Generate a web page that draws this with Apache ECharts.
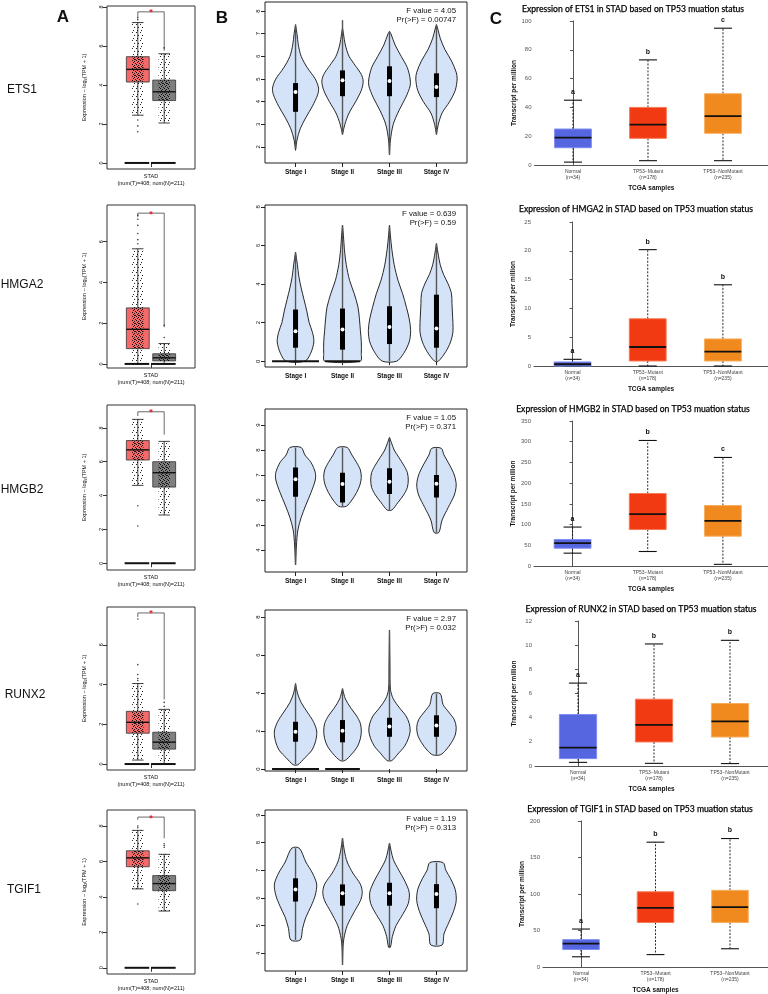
<!DOCTYPE html>
<html><head><meta charset="utf-8">
<script src="https://cdn.jsdelivr.net/npm/echarts@6/dist/echarts.min.js"></script>
<style>html,body{margin:0;padding:0;background:#fff}#c{width:768px;height:994px}</style>
</head><body><div id="c"></div><script>
// ---------------- DATA ----------------
const genes = ['ETS1','HMGA2','HMGB2','RUNX2','TGIF1'];
const panelLetters = ['A','B','C'];

// Panel A (GEPIA boxplots): [min, Q1, median, Q3, max]
const aTumor  = [[2.45,4.15,4.8,5.45,7.2],[0,0.75,1.7,2.75,5.65],[4.6,6.1,6.7,7.25,8.5],[0.2,1.55,2.1,2.65,4.05],[4.45,5.7,6.2,6.6,7.75]];
const aNormal = [[2.05,3.2,3.65,4.25,5.6],[0,0.15,0.3,0.5,1.0],[2.85,4.5,5.35,6.0,7.2],[0,0.75,1.1,1.6,2.75],[3.2,4.35,4.75,5.2,6.4]];
const aTumorOut  = [[7.45,7.35,1.6,1.9,2.2],[7.3,7.1,6.8,6.4,6.1,5.9],[3.4,2.2],[7.3,5.0,4.5,4.3,4.2],[3.6,7.9,8.0]];
const aNormalOut = [[5.9],[1.9,1.3],[],[3.1,2.9],[6.8,6.9,7.0]];
const aBracket = [[7.45,7.75,5.75],[7.2,7.4,1.8],[8.7,8.95,7.6],[7.4,7.6,3.25],[8.35,8.5,7.3]]; // [left end, top, right end]
const aTicks = [0,2,4,6,8];
const aCategory = 'STAD';
const aCounts = '(num(T)=408; num(N)=211)';

// Panel B (violin plots by stage)
const stages = ['Stage I','Stage II','Stage III','Stage IV'];
const fValues = ['4.05','0.639','1.05','2.97','1.19'];
const pValues = ['0.00747','0.59','0.371','0.032','0.313'];
const bTicks = [[2,3,4,5,6,7,8],[0,2,4,6,8],[4,5,6,7,8,9],[0,2,4,6,8],[4,5,6,7,8,9]];
// violin outline: levels and half widths (stage units)
const vLevels = [
 [[1.85,2.3,2.8,3.3,3.8,4.3,4.6,5.0,5.5,6.0,6.5,7.0,7.4],[2.55,3.0,3.5,4.0,4.5,4.9,5.2,5.6,6.0,6.5,7.0,7.25],[1.65,2.3,3.0,3.6,4.2,4.7,5.0,5.5,6.0,6.5,7.0,7.1],[2.55,3.0,3.5,4.0,4.5,5.0,5.3,5.8,6.3,6.8,7.2,7.4]],
 [[0,0.4,1.0,1.5,2.0,2.6,3.2,3.8,4.4,5.0,5.65],[0,0.4,1.0,1.6,2.2,2.8,3.5,4.2,5.0,5.8,6.5,7.05],[0,0.4,1.0,1.6,2.2,2.8,3.5,4.2,5.0,5.8,6.5,7.05],[0,0.5,1.0,1.5,2.0,2.5,3.0,3.5,4.0,4.5,5.0,5.5,6.1]],
 [[3.4,4.2,4.8,5.3,5.8,6.3,6.8,7.1,7.5,7.8,8.1],[5.75,6.0,6.3,6.6,6.9,7.2,7.5,7.8,8.1],[5.6,5.9,6.2,6.5,6.8,7.1,7.4,7.7,8.0,8.3,8.5],[4.7,5.2,5.7,6.2,6.6,7.0,7.4,7.8,8.07]],
 [[0.23,0.6,1.0,1.5,2.0,2.5,3.0,3.5,4.0,4.5],[0.45,0.8,1.2,1.6,2.0,2.4,2.8,3.2,3.7,4.23],[0.45,0.8,1.2,1.6,2.0,2.4,2.8,3.2,3.7,4.2,5.4,7.3],[0.75,1.0,1.4,1.8,2.2,2.6,3.0,3.4,3.97]],
 [[4.48,4.9,5.3,5.7,6.1,6.5,6.9,7.3,7.8],[3.58,4.2,4.54,5.0,5.5,5.9,6.2,6.5,6.9,7.3,7.7,8.16],[4.22,4.6,5.0,5.4,5.8,6.2,6.6,7.0,7.4,7.98],[4.3,4.7,5.1,5.5,5.9,6.3,6.7,7.0,7.28]]
];
const vWidths = [
 [[0,0.03,0.1,0.22,0.36,0.47,0.49,0.42,0.25,0.12,0.06,0.03,0],[0,0.05,0.14,0.28,0.4,0.44,0.4,0.27,0.14,0.06,0.02,0],[0,0.02,0.08,0.2,0.35,0.44,0.44,0.38,0.25,0.12,0.03,0],[0,0.04,0.12,0.28,0.4,0.44,0.42,0.32,0.18,0.08,0.03,0]],
 [[0.2,0.32,0.39,0.36,0.29,0.24,0.18,0.12,0.07,0.04,0],[0.38,0.4,0.4,0.38,0.36,0.33,0.25,0.15,0.08,0.04,0.02,0],[0.15,0.3,0.42,0.45,0.42,0.36,0.28,0.18,0.1,0.05,0.02,0],[0.04,0.2,0.3,0.35,0.35,0.34,0.33,0.32,0.25,0.15,0.08,0.04,0]],
 [[0,0.02,0.05,0.12,0.22,0.33,0.42,0.42,0.33,0.2,0.12],[0.08,0.2,0.3,0.37,0.4,0.38,0.3,0.2,0.1],[0.05,0.18,0.3,0.38,0.4,0.38,0.3,0.2,0.1,0.04,0],[0.05,0.12,0.25,0.38,0.42,0.38,0.28,0.16,0.1]],
 [[0.05,0.2,0.35,0.43,0.45,0.38,0.25,0.12,0.04,0],[0.05,0.2,0.32,0.38,0.4,0.38,0.3,0.18,0.06,0],[0.05,0.18,0.32,0.4,0.44,0.42,0.35,0.22,0.08,0.02,0.01,0],[0.08,0.2,0.32,0.4,0.42,0.38,0.26,0.14,0.08]],
 [[0.1,0.15,0.22,0.33,0.42,0.45,0.36,0.22,0.08],[0,0.01,0.03,0.1,0.25,0.38,0.42,0.38,0.22,0.1,0.04,0],[0.02,0.06,0.14,0.28,0.4,0.42,0.33,0.2,0.08,0],[0.12,0.16,0.26,0.36,0.42,0.4,0.3,0.2,0.14]]
];
// inner box: [min, Q1, median, Q3, max]
const vStats = [
 [[1.9,3.55,4.43,4.82,7.4],[2.55,4.24,4.94,5.38,7.6],[1.65,4.24,4.91,5.56,7.1],[2.55,4.2,4.65,5.25,7.4]],
 [[0,0.7,1.55,2.68,5.65],[0,0.6,1.65,2.73,7.05],[0,0.89,1.77,2.85,7.05],[0,0.7,1.7,3.45,6.1]],
 [[3.4,6.13,6.83,7.3,8.1],[5.75,5.9,6.64,7.09,8.1],[5.6,6.24,6.73,7.27,8.5],[4.7,6.1,6.65,7.0,8.07]],
 [[0.25,1.44,1.97,2.49,4.5],[0.45,1.41,2.02,2.58,4.23],[0.45,1.7,2.24,2.7,7.3],[0.75,1.7,2.3,2.83,3.97]],
 [[4.48,5.87,6.31,6.71,7.8],[3.58,5.72,6.17,6.49,8.16],[4.22,5.72,6.17,6.55,7.98],[4.3,5.63,6.14,6.5,7.28]]
];
// stages with a pile of zero values: [stage, half width]
const vZero = [[],[[1,0.5],[2,0.37]],[],[[1,0.5],[2,0.37]],[]];

// Panel C (UALCAN TP53 status boxplots): [min, Q1, median, Q3, max]
const cGroups = ['Normal','TP53\u2212Mutant','TP53\u2212NonMutant'];
const cCounts = ['(n=34)','(n=178)','(n=235)'];
const cStats = [
 [[2,12,19,25,45],[3,18.5,28,40,73],[3,22,34,49.5,95]],
 [[0,0,0.3,0.7,1.16],[0,0.87,3.3,8.2,20.2],[0,0.87,2.5,4.7,14.1]],
 [[31,43,55,64,94],[35,88,125,175,303],[4,72,109,146,262]],
 [[0.3,0.61,1.52,4.26,6.86],[0.22,1.99,3.4,5.53,10.1],[0.2,2.4,3.7,5.17,10.4]],
 [[14,24,32,37.5,52],[17,61,81,103,171],[25,61,82,105,176]]
];
const cLetters = [['a','b','c'],['a','b','b'],['a','b','c'],['a','b','b'],['a','b','b']];
const cMax = [100,25,350,12,200];
const cInterval = [20,5,50,2,50];

// ---------------- LAYOUT / STYLE ----------------
const FONT = '"Liberation Sans", Arial, sans-serif';
const TFONT = 'Lato, "Open Sans", sans-serif';
const aRows = [[6,169],[205,368],[405,570],[607,770],[810,974]];
const aRange = [[-0.31,8.05],[-0.2,7.8],[-0.4,9.35],[-0.3,7.9],[-0.35,8.9]];
const bRows = [[2,163],[205,367],[409,572],[610,771],[810,971]];
const bRange = [[1.29,8.4],[-0.3,8.1],[3.12,9.64],[-0.1,8.37],[3.36,9.18]];
const cRows = [[21,165],[222,366],[421,566],[621,766],[821,967]];
const cLeft = [534.5,534,534,535,543];
const cX = [[-0.513,2.6],[-0.513,2.6],[-0.513,2.6],[-0.566,2.5],[-0.51,2.51]];
const titleXY = [[633,9],[636,209],[633,409],[641,609],[640,809]];
const geneXY = [[22,90],[22,285],[22,490],[25,695],[24,890]];
const cColors = ['#5566E0','#F23A12','#F08A1E'];
const cBorders = ['#7F8CF0','#F77A55','#F6AE5E'];

function makePattern(dots, w, h){
  const cv = document.createElement('canvas'); cv.width = w; cv.height = h;
  const g = cv.getContext('2d'); g.fillStyle = 'rgba(10,10,10,0.9)';
  dots.forEach(d => g.fillRect(d[0], d[1], 1, 1));
  return cv;
}
const densePat = makePattern([[0,0],[2,1],[1,2],[3,3]],4,4);
const sparsePat = makePattern([[0,0],[2,3],[1,6]],4,8);

const grids = [], xAxes = [], yAxes = [], series = [], graphics = [];

function ticksIn(list, r){ return list.filter(v => v >= r[0] && v <= r[1]); }

genes.forEach((gene, i) => {
  // ---------- Panel A ----------
  let gi = grids.length;
  grids.push({left:107, top:aRows[i][0], width:88, height:aRows[i][1]-aRows[i][0], show:true, borderColor:'#333', borderWidth:1, backgroundColor:'rgba(0,0,0,0)', containLabel:false, outerBoundsMode:'none'});
  xAxes.push({gridIndex:gi, type:'value', min:0, max:1, axisLine:{show:false}, splitLine:{show:false},
    axisTick:{show:true, customValues:[0.5], length:4, lineStyle:{color:'#333'}},
    axisLabel:{show:true, customValues:[0.5], formatter:() => aCategory + '\n' + aCounts, fontSize:5.5, lineHeight:7, color:'#111', fontFamily:FONT, margin:4}});
  const at = ticksIn(aTicks, aRange[i]);
  yAxes.push({gridIndex:gi, type:'value', min:aRange[i][0], max:aRange[i][1], axisLine:{show:false}, splitLine:{show:false},
    axisTick:{show:true, customValues:at, length:4, lineStyle:{color:'#333'}},
    axisLabel:{show:true, customValues:at, rotate:90, fontSize:5.5, color:'#111', fontFamily:FONT, margin:3},
    name:'Expression \u2212 log{s|2}(TPM + 1)', nameLocation:'middle', nameGap:20, nameRotate:90,
    nameTextStyle:{fontSize:5.5, color:'#111', fontFamily:FONT, rich:{s:{fontSize:4, fontFamily:FONT, color:'#111', padding:[0,0,-3,0]}}}});
  series.push({type:'custom', xAxisIndex:gi, yAxisIndex:gi, clip:false, silent:true,
    data:[[0.35].concat(aTumor[i],[0]), [0.65].concat(aNormal[i],[1])],
    encode:{x:0, y:[1,2,3,4,5]},
    renderItem:(params, api) => {
      const x = api.value(0), mn = api.value(1), q1 = api.value(2), md = api.value(3), q3 = api.value(4), mx = api.value(5), k = api.value(6);
      const c = (a,b) => api.coord([a,b]);
      const hw = 0.13, cw = 0.065, bw = 0.065;
      const fill = k === 0 ? '#F46A6A' : '#7F7F7F';
      const tl = c(x-hw, q3), br = c(x+hw, q1);
      const ln = (p1,p2,st) => ({type:'line', shape:{x1:p1[0],y1:p1[1],x2:p2[0],y2:p2[1]}, style:st});
      const ws = {stroke:'#111', lineWidth:0.8};
      const b1 = c(x-bw, q3), b2 = c(x+bw, q1), s1 = c(x-bw, mx), s2 = c(x+bw, mn);
      return {type:'group', children:[
        ln(c(x,q3), c(x,mx), ws), ln(c(x,q1), c(x,mn), ws),
        ln(c(x-cw,mx), c(x+cw,mx), ws), ln(c(x-cw,mn), c(x+cw,mn), ws),
        {type:'rect', shape:{x:tl[0], y:tl[1], width:br[0]-tl[0], height:br[1]-tl[1]}, style:{fill:fill, stroke:'#333', lineWidth:0.8}},
        {type:'rect', shape:{x:s1[0], y:s1[1], width:s2[0]-s1[0], height:s2[1]-s1[1]}, style:{fill:{image:sparsePat, repeat:'repeat'}}},
        {type:'rect', shape:{x:b1[0], y:b1[1], width:b2[0]-b1[0], height:b2[1]-b1[1]}, style:{fill:{image:densePat, repeat:'repeat'}}},
        ln(c(x-hw,md), c(x+hw,md), {stroke:'#111', lineWidth:1.4}),
        ln(c(x-hw-0.02,0), c(x+hw,0), {stroke:'#111', lineWidth:2})
      ]};
    }});
  series.push({type:'scatter', xAxisIndex:gi, yAxisIndex:gi, silent:true, symbolSize:1.6, itemStyle:{color:'#111'},
    data: aTumorOut[i].map(v => [0.35, v]).concat(aNormalOut[i].map(v => [0.65, v]))});
  series.push({type:'custom', xAxisIndex:gi, yAxisIndex:gi, clip:false, silent:true,
    data:[[0.5].concat(aBracket[i])], encode:{x:0, y:[1,2,3]},
    renderItem:(params, api) => {
      const c = (a,b) => api.coord([a,b]);
      const le = api.value(1), top = api.value(2), re = api.value(3);
      const pts = [c(0.35,le), c(0.35,top), c(0.65,top), c(0.65,re)];
      const m = c(0.5, top);
      return {type:'group', children:[
        {type:'polyline', shape:{points:pts}, style:{stroke:'#444', lineWidth:0.8, fill:null}},
        {type:'text', x:m[0], y:m[1]+1, style:{text:'*', fill:'#E8202A', font:'bold 9px ' + FONT, align:'center', verticalAlign:'middle'}}
      ]};
    }});

  // ---------- Panel B ----------
  gi = grids.length;
  grids.push({left:265, top:bRows[i][0], width:202, height:bRows[i][1]-bRows[i][0], show:true, borderColor:'#222', borderWidth:1, backgroundColor:'rgba(0,0,0,0)', containLabel:false, outerBoundsMode:'none'});
  xAxes.push({gridIndex:gi, type:'value', min:0.35, max:4.65, axisLine:{show:false}, splitLine:{show:false},
    axisTick:{show:true, customValues:[1,2,3,4], length:4, lineStyle:{color:'#222'}},
    axisLabel:{show:true, customValues:[1,2,3,4], formatter:(v) => stages[Math.round(v)-1], fontSize:6.5, fontWeight:'bold', color:'#111', fontFamily:FONT, margin:6}});
  const bt = ticksIn(bTicks[i], bRange[i]);
  yAxes.push({gridIndex:gi, type:'value', min:bRange[i][0], max:bRange[i][1], axisLine:{show:false}, splitLine:{show:false},
    axisTick:{show:true, customValues:bt, length:4, lineStyle:{color:'#222'}},
    axisLabel:{show:true, customValues:bt, rotate:90, fontSize:6, color:'#111', fontFamily:FONT, margin:4}});
  series.push({type:'custom', xAxisIndex:gi, yAxisIndex:gi, clip:false, silent:true,
    data: stages.map((s,k) => [k+1].concat(vStats[i][k])),
    encode:{x:0, y:[1,5]},
    renderItem:(params, api) => {
      const k = params.dataIndex, s = api.value(0);
      const c = (a,b) => api.coord([a,b]);
      const ys = vLevels[i][k], ws = vWidths[i][k];
      const right = ys.map((y,j) => c(s + ws[j], y));
      const left = ys.map((y,j) => c(s - ws[j], y)).reverse();
      const mn = api.value(1), q1 = api.value(2), md = api.value(3), q3 = api.value(4), mx = api.value(5);
      const p1 = c(s, mn), p2 = c(s, mx), pq3 = c(s, q3), pq1 = c(s, q1), pm = c(s, md);
      const ch = [
        {type:'polygon', shape:{points:right.concat(left), smooth:0.3}, style:{fill:'#D5E3F8', stroke:'#111', lineWidth:0.9}},
        {type:'line', shape:{x1:p1[0], y1:p1[1], x2:p2[0], y2:p2[1]}, style:{stroke:'#555', lineWidth:1.4}},
        {type:'rect', shape:{x:pq3[0]-2.5, y:pq3[1], width:5, height:pq1[1]-pq3[1]}, style:{fill:'#000'}},
        {type:'circle', shape:{cx:pm[0], cy:pm[1], r:2}, style:{fill:'#fff'}}
      ];
      vZero[i].forEach(z => {
        if (z[0] === s) {
          const a = c(s - z[1], 0), b = c(s + z[1], 0);
          ch.push({type:'line', shape:{x1:a[0], y1:a[1], x2:b[0], y2:b[1]}, style:{stroke:'#111', lineWidth:2}});
        }
      });
      return {type:'group', children:ch};
    }});
  graphics.push({type:'text', x:456, y:bRows[i][0]+8.5, style:{text:'F value = ' + fValues[i], font:'7.8px ' + FONT, fill:'#111', align:'right', verticalAlign:'middle'}});
  graphics.push({type:'text', x:456, y:bRows[i][0]+17.5, style:{text:'Pr(>F) = ' + pValues[i], font:'7.8px ' + FONT, fill:'#111', align:'right', verticalAlign:'middle'}});

  // ---------- Panel C ----------
  gi = grids.length;
  grids.push({left:cLeft[i], top:cRows[i][0], width:768-cLeft[i], height:cRows[i][1]-cRows[i][0], show:false, containLabel:false, outerBoundsMode:'none'});
  xAxes.push({gridIndex:gi, type:'value', min:cX[i][0], max:cX[i][1], splitLine:{show:false},
    axisLine:{show:true, onZero:false, lineStyle:{color:'#555', width:1}},
    axisTick:{show:false},
    axisLabel:{show:true, customValues:[0,1,2], formatter:(v) => cGroups[Math.round(v)] + '\n' + cCounts[Math.round(v)], fontSize:5, lineHeight:6, color:'#444', fontFamily:FONT, margin:4},
    name:'TCGA samples', nameLocation:'middle', nameGap:20, nameTextStyle:{fontSize:6.5, fontWeight:'bold', color:'#111', fontFamily:FONT}});
  yAxes.push({gridIndex:gi, type:'value', min:0, max:cMax[i], interval:cInterval[i], splitLine:{show:false},
    axisLine:{show:true, lineStyle:{color:'#555', width:1}},
    axisTick:{show:true, length:3, lineStyle:{color:'#555'}},
    axisLabel:{show:true, fontSize:6, color:'#555', fontFamily:FONT, margin:3},
    name:'Transcript per million', nameLocation:'middle', nameGap:17, nameRotate:90,
    nameTextStyle:{fontSize:6.5, fontWeight:'bold', color:'#111', fontFamily:FONT}});
  series.push({type:'custom', xAxisIndex:gi, yAxisIndex:gi, clip:false, silent:true,
    data: cStats[i].map((st,k) => [k].concat(st)),
    encode:{x:0, y:[1,2,3,4,5]},
    renderItem:(params, api) => {
      const k = params.dataIndex, x = api.value(0);
      const mn = api.value(1), q1 = api.value(2), md = api.value(3), q3 = api.value(4), mx = api.value(5);
      const c = (a,b) => api.coord([a,b]);
      const hw = 0.245, cw = 0.12;
      const ln = (p1,p2,st) => ({type:'line', shape:{x1:p1[0],y1:p1[1],x2:p2[0],y2:p2[1]}, style:st});
      const tl = c(x-hw, q3), br = c(x+hw, q1), top = c(x, mx);
      const dash = {stroke:'#111', lineWidth:0.9, lineDash:[2,1.5]};
      return {type:'group', children:[
        ln(c(x,q3), c(x,mx), dash), ln(c(x,q1), c(x,mn), dash),
        ln(c(x-cw,mx), c(x+cw,mx), {stroke:'#111', lineWidth:1.1}),
        ln(c(x-cw,mn), c(x+cw,mn), {stroke:'#111', lineWidth:1.1}),
        {type:'rect', shape:{x:tl[0], y:tl[1], width:br[0]-tl[0], height:Math.max(br[1]-tl[1], 0.5)}, style:{fill:cColors[k], stroke:cBorders[k], lineWidth:1}},
        ln(c(x-hw,md), c(x+hw,md), {stroke:'#111', lineWidth:1.8}),
        {type:'text', x:top[0], y:top[1]-8, style:{text:cLetters[i][k], font:'bold 7px ' + FONT, fill:'#111', align:'center', verticalAlign:'middle'}}
      ]};
    }});
  graphics.push({type:'text', x:titleXY[i][0], y:titleXY[i][1], style:{text:'Expression of ' + gene + ' in STAD based on TP53 muation status', font:'8.6px ' + TFONT, fill:'#000', stroke:'#000', lineWidth:0.25, align:'center', verticalAlign:'middle'}});

  // gene label
  graphics.push({type:'text', x:geneXY[i][0], y:geneXY[i][1], style:{text:gene, font:'12px ' + FONT, fill:'#111', align:'center', verticalAlign:'middle'}});
});

graphics.push({type:'text', x:63, y:17, style:{text:panelLetters[0], font:'bold 17px ' + FONT, fill:'#111', align:'center', verticalAlign:'middle'}});
graphics.push({type:'text', x:222, y:18, style:{text:panelLetters[1], font:'bold 17px ' + FONT, fill:'#111', align:'center', verticalAlign:'middle'}});
graphics.push({type:'text', x:496, y:19, style:{text:panelLetters[2], font:'bold 17px ' + FONT, fill:'#111', align:'center', verticalAlign:'middle'}});

const chart = echarts.init(document.getElementById('c'), null, {renderer:'canvas', width:768, height:994});
chart.setOption({
  animation:false,
  backgroundColor:'#ffffff',
  grid:grids, xAxis:xAxes, yAxis:yAxes, series:series,
  graphic:{elements:graphics}
});
</script></body></html>
